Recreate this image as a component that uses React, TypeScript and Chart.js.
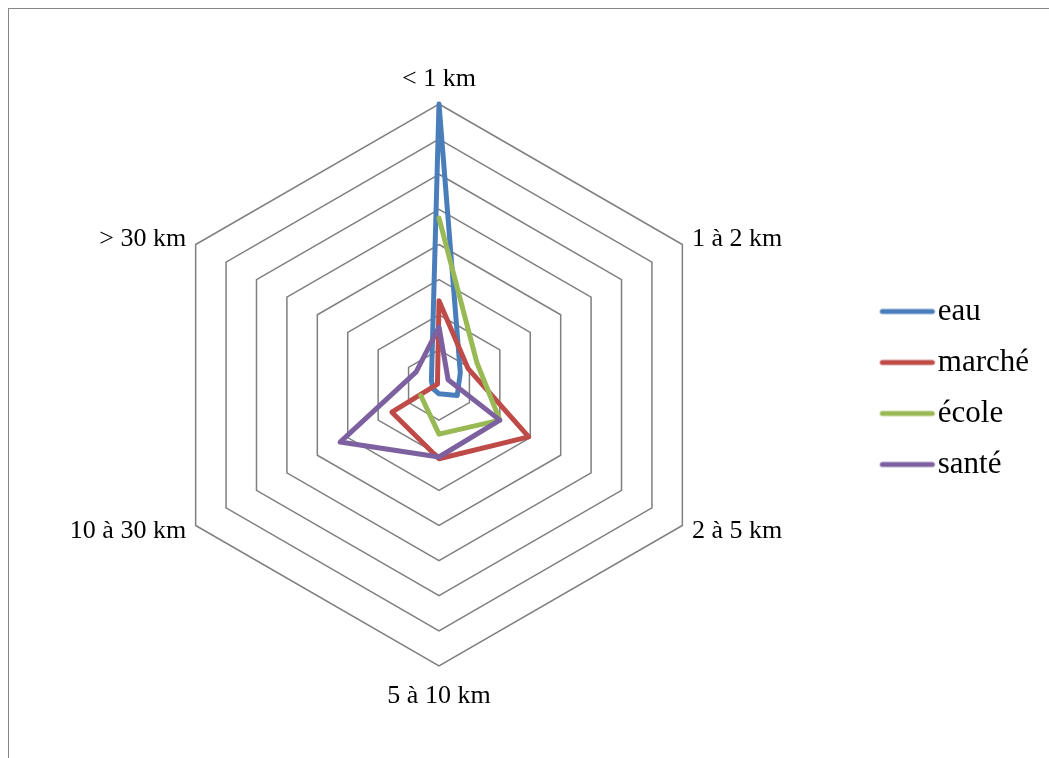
import React, { useEffect, useRef } from 'react';
import { Chart, registerables } from 'chart.js';

Chart.register(...registerables);

// ---- data ----
const axisLabels = ['< 1 km', '1 à 2 km', '2 à 5 km', '5 à 10 km', '10 à 30 km', '> 30 km'];
const seriesNames = ['eau', 'marché', 'école', 'santé'];
const eauValues = [80, 7, 6, 2.5, 2, 2.5];
const marcheValues = [24, 9.5, 29.5, 21, 15.5, 0.5];
const ecoleValues = [47.5, 12.5, 20, 14, 6, null];
const santeValues = [16.5, 3, 20, 20.5, 32.5, 7.5];
const scaleMin = 0;
const scaleMax = 80;
const scaleStep = 10;

// ---- style ----
const FONT = '"Liberation Serif", "Times New Roman", Times, serif';
const seriesColors = ['#4A7EBB', '#BE4B48', '#98B954', '#7D60A0'];
const LABEL_SIZE = 26;
const LEGEND_SIZE = 31;

function makeLegendMark(color: string): HTMLCanvasElement {
  const c = document.createElement('canvas');
  c.width = 62;
  c.height = 10;
  const g = c.getContext('2d')!;
  g.strokeStyle = color;
  g.lineWidth = 5;
  g.lineCap = 'round';
  g.beginPath();
  g.moveTo(8.75, 5);
  g.lineTo(58.75, 5);
  g.stroke();
  return c;
}

const pointLabelPlugin = {
  id: 'excelPointLabels',
  afterDatasetsDraw(chart: any) {
    const scale = chart.scales.r;
    const ctx = chart.ctx;
    const n = axisLabels.length;
    ctx.save();
    ctx.font = `${LABEL_SIZE}px ${FONT}`;
    ctx.fillStyle = '#000';
    axisLabels.forEach((label, i) => {
      let pad = 11;
      let align: CanvasTextAlign = 'left';
      let base: CanvasTextBaseline = 'middle';
      if (i === 0) { pad = 12; align = 'center'; base = 'bottom'; }
      else if (i === n / 2) { pad = 17; align = 'center'; base = 'top'; }
      else if (i < n / 2) { align = 'left'; }
      else { align = 'right'; }
      const p = scale.getPointPosition(i, scale.drawingArea + pad);
      ctx.textAlign = align;
      ctx.textBaseline = base;
      ctx.fillText(label, p.x, p.y);
    });
    ctx.restore();
  },
};

export default function App() {
  const canvasRef = useRef<HTMLCanvasElement | null>(null);

  useEffect(() => {
    if (!canvasRef.current) return;
    const marks = seriesColors.map(makeLegendMark);
    const seriesData = [eauValues, marcheValues, ecoleValues, santeValues];
    const chart = new Chart(canvasRef.current, {
      type: 'radar',
      data: {
        labels: axisLabels,
        datasets: seriesNames.map((name, i) => ({
          label: name,
          data: seriesData[i],
          borderColor: seriesColors[i],
          backgroundColor: seriesColors[i],
          fill: false,
          borderWidth: 5,
          borderJoinStyle: 'round',
          borderCapStyle: 'round',
          pointRadius: 0,
          pointHoverRadius: 0,
          spanGaps: false,
          order: seriesNames.length - i,
        })),
      },
      options: {
        responsive: true,
        maintainAspectRatio: false,
        animation: false,
        events: [],
        layout: { padding: { left: 4, right: 10, top: 95, bottom: 92 } },
        scales: {
          r: {
            min: scaleMin,
            max: scaleMax,
            ticks: { display: false, stepSize: scaleStep },
            grid: { color: '#7f7f7f', lineWidth: 1.5, circular: false },
            angleLines: { display: false },
            pointLabels: { display: false },
          },
        },
        plugins: {
          tooltip: { enabled: false },
          legend: {
            position: 'right',
            reverse: true,
            title: { display: true, text: '', font: { size: 5 }, padding: 0 },
            labels: {
              usePointStyle: true,
              pointStyleWidth: 35.5,
              padding: 20,
              color: '#000',
              font: { family: FONT, size: LEGEND_SIZE },
              generateLabels: (c: any) => {
                const items = (Chart as any).defaults.plugins.legend.labels.generateLabels(c);
                return items.map((it: any) => ({ ...it, pointStyle: marks[it.datasetIndex] }));
              },
            },
          },
        },
      } as any,
      plugins: [pointLabelPlugin],
    });
    return () => chart.destroy();
  }, []);

  return (
    <div
      style={{
        position: 'fixed',
        left: 8,
        top: 8,
        width: 1100,
        height: 800,
        borderTop: '1px solid #868686',
        borderLeft: '1px solid #868686',
        background: '#fff',
      }}
    >
      <div style={{ position: 'relative', width: 1040, height: 749 }}>
        <canvas ref={canvasRef} />
      </div>
    </div>
  );
}
